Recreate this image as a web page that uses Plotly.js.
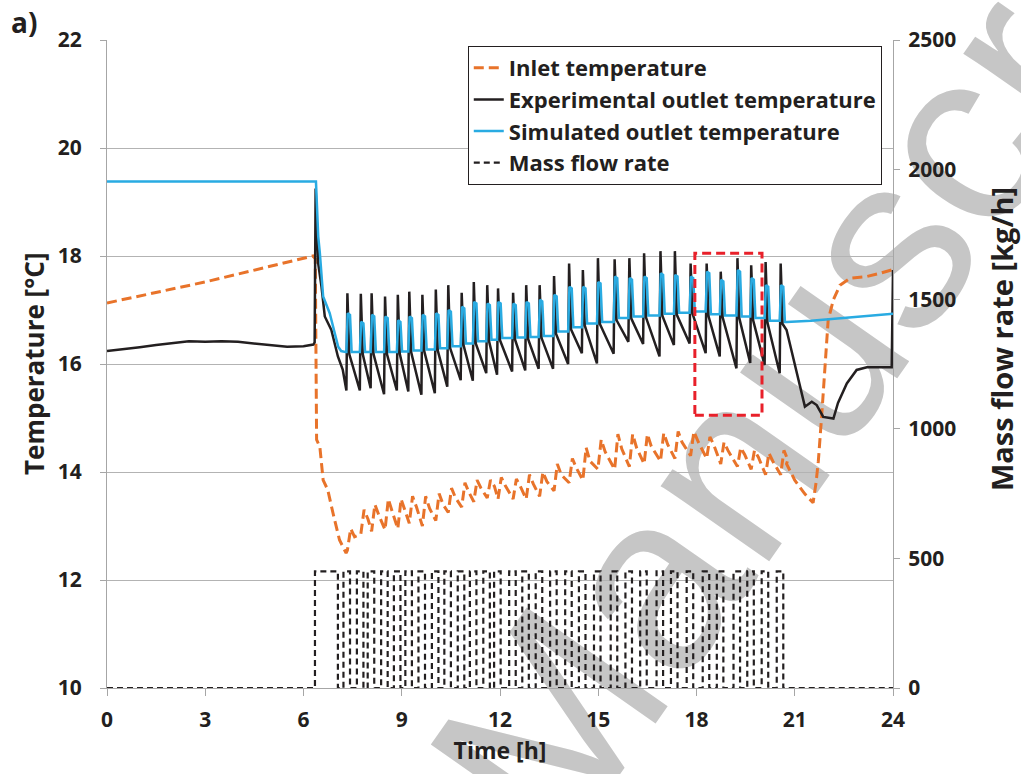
<!DOCTYPE html>
<html>
<head>
<meta charset="utf-8">
<script src="https://cdn.plot.ly/plotly-3.0.1.min.js"></script>
<style>
  html, body { margin: 0; padding: 0; background: #ffffff; }
  #wrap { position: relative; width: 1021px; height: 774px; overflow: hidden; }
  #wm { position: absolute; left: 0; top: 0; z-index: 0; }
  #chart { position: absolute; left: 0; top: 0; width: 1021px; height: 774px; z-index: 1; }
</style>
</head>
<body>
<div id="wrap">
<svg id="wm" width="1021" height="774" xmlns="http://www.w3.org/2000/svg">
  <text x="560" y="860" transform="rotate(-55 560 860)" font-family="Liberation Sans, Arial, sans-serif" font-size="250" fill="#c6c6c6">Manuscript</text>
</svg>
<div id="chart"></div>
</div>
<script>
// ---------- data ----------
// pump cycle start times [h]
const cycleT = [7.32, 7.73, 8.06, 8.47, 8.86, 9.21, 9.61, 10.02, 10.40, 10.81, 11.18, 11.59, 11.92, 12.38, 12.78, 13.19, 13.63, 14.09, 14.51, 14.97, 15.48, 15.93, 16.38, 16.88, 17.32, 17.80, 18.29, 18.72, 19.23, 19.65, 20.09, 20.55];

// experimental outlet temperature [°C]
const expPreT = [0, 0.5, 1, 1.5, 2, 2.5, 3, 3.5, 4, 4.5, 5, 5.5, 6, 6.3, 6.34, 6.37, 6.45, 6.55, 6.65, 6.85, 7.05, 7.2];
const expPreV = [16.24, 16.27, 16.31, 16.35, 16.39, 16.42, 16.41, 16.42, 16.41, 16.38, 16.34, 16.32, 16.33, 16.36, 16.40, 19.25, 17.86, 17.43, 16.88, 16.63, 16.14, 15.89];
const expTrough = [15.51, 15.51, 15.55, 15.44, 15.51, 15.49, 15.43, 15.46, 15.58, 15.70, 15.69, 15.83, 15.80, 15.86, 15.88, 15.91, 15.91, 16.00, 16.20, 16.01, 16.19, 16.41, 16.37, 16.14, 16.35, 16.38, 16.20, 16.14, 15.92, 16.02, 15.98, 15.83];
const expPeak = [17.31, 17.30, 17.31, 17.25, 17.28, 17.34, 17.28, 17.38, 17.46, 17.32, 17.52, 17.46, 17.40, 17.32, 17.46, 17.46, 17.63, 17.86, 17.74, 17.96, 17.94, 17.96, 18.05, 18.09, 18.09, 17.86, 17.86, 17.71, 17.96, 17.83, 17.89, 17.86];
const expKnee = [16.18, 16.18, 16.18, 16.18, 16.19, 16.21, 16.23, 16.25, 16.29, 16.34, 16.38, 16.41, 16.44, 16.45, 16.46, 16.48, 16.56, 16.64, 16.71, 16.74, 16.81, 16.84, 16.86, 16.89, 16.91, 16.93, 16.88, 16.86, 16.84, 16.81, 16.76, 16.74];
const expPostT = [20.75, 20.95, 21.16, 21.31, 21.52, 21.67, 21.87, 22.18, 22.32, 22.59, 22.89, 23.2, 23.96, 23.98, 24];
const expPostV = [16.63, 16.14, 15.58, 15.21, 15.30, 15.24, 15.02, 14.99, 15.28, 15.64, 15.89, 15.94, 15.94, 17.70, 17.74];

// simulated outlet temperature [°C]
const simPreT = [0, 6.38, 6.45, 6.5, 6.6, 6.8, 7.06, 7.15, 7.29];
const simPreV = [19.38, 19.38, 18.36, 18.05, 17.25, 16.94, 16.32, 16.24, 16.22];
const simPeak = [16.94, 16.78, 16.91, 16.88, 16.81, 16.88, 16.91, 16.94, 17.00, 17.06, 17.15, 17.12, 17.15, 17.12, 17.15, 17.19, 17.28, 17.43, 17.43, 17.52, 17.62, 17.59, 17.62, 17.68, 17.65, 17.62, 17.71, 17.56, 17.74, 17.59, 17.46, 17.46];
const simBase = [16.22, 16.22, 16.22, 16.22, 16.23, 16.25, 16.27, 16.29, 16.33, 16.38, 16.42, 16.45, 16.48, 16.49, 16.50, 16.52, 16.60, 16.68, 16.75, 16.78, 16.85, 16.88, 16.90, 16.93, 16.95, 16.97, 16.92, 16.90, 16.88, 16.85, 16.80, 16.78];
const simPostT = [20.75, 21.5, 22.5, 23.5, 24];
const simPostV = [16.78, 16.80, 16.85, 16.90, 16.93];

// inlet temperature [°C]
const inPreT = [0, 3, 6.29, 6.36, 6.4, 6.5, 6.6, 6.74, 6.9, 7.1, 7.3];
const inPreV = [17.13, 17.52, 18.00, 17.95, 14.60, 14.46, 13.85, 13.67, 13.24, 12.74, 12.50];
const inLow = [12.55, 12.85, 12.90, 12.93, 12.95, 13.05, 13.00, 13.10, 13.25, 13.35, 13.45, 13.52, 13.50, 13.50, 13.50, 13.55, 13.65, 13.80, 13.85, 14.05, 14.05, 14.10, 14.15, 14.20, 14.25, 14.30, 14.25, 14.15, 14.10, 14.05, 13.95, 13.95];
const inHigh = [12.95, 13.30, 13.40, 13.50, 13.50, 13.55, 13.55, 13.60, 13.70, 13.80, 13.85, 13.85, 13.90, 13.87, 13.95, 14.00, 14.15, 14.25, 14.45, 14.60, 14.70, 14.70, 14.70, 14.72, 14.75, 14.75, 14.65, 14.55, 14.45, 14.40, 14.35, 14.40];
const inPostT = [20.75, 21.0, 21.3, 21.56, 21.65, 21.72, 21.82, 21.92, 22.02, 22.18, 22.38, 22.69, 23.2, 23.6, 24];
const inPostV = [14.15, 13.85, 13.60, 13.43, 13.80, 14.20, 15.02, 15.89, 16.81, 17.19, 17.46, 17.59, 17.62, 17.68, 17.75];

// mass flow rate pulses [h] and level [kg/h]
const pumpOn  = [6.35, 7.22, 7.63, 7.96, 8.37, 8.76, 9.11, 9.51, 9.92, 10.30, 10.71, 11.08, 11.49, 11.82, 12.28, 12.68, 13.09, 13.53, 13.99, 14.41, 14.87, 15.38, 15.83, 16.28, 16.78, 17.22, 17.70, 18.19, 18.62, 19.13, 19.55, 19.99, 20.45];
const pumpOff = [7.05, 7.42, 7.83, 8.16, 8.57, 8.96, 9.31, 9.71, 10.12, 10.50, 10.91, 11.28, 11.69, 12.02, 12.48, 12.88, 13.29, 13.73, 14.19, 14.61, 15.07, 15.58, 16.03, 16.48, 16.98, 17.42, 17.90, 18.39, 18.82, 19.33, 19.75, 20.19, 20.65];
const flowLevel = 450;

const xTicks = [0, 3, 6, 9, 12, 15, 18, 21, 24];

// ---------- build traces ----------
const ex = expPreT.slice(), ey = expPreV.slice();
for (let i = 0; i < cycleT.length; i++) {
  ex.push(cycleT[i] - 0.01); ey.push(expTrough[i]);
  ex.push(cycleT[i] + 0.02); ey.push(expPeak[i]);
  ex.push(cycleT[i] + 0.08); ey.push(expKnee[i]);
}
expPostT.forEach((t, k) => { ex.push(t); ey.push(expPostV[k]); });

const sx = simPreT.slice(), sy = simPreV.slice();
for (let i = 0; i < cycleT.length; i++) {
  const prevBase = i === 0 ? simPreV[simPreV.length - 1] : simBase[i - 1];
  sx.push(cycleT[i] - 0.01); sy.push(prevBase);
  sx.push(cycleT[i] + 0.03); sy.push(simPeak[i]);
  sx.push(cycleT[i] + 0.10); sy.push(simPeak[i] - 0.03);
  sx.push(cycleT[i] + 0.15); sy.push(simBase[i]);
}
simPostT.forEach((t, k) => { sx.push(t); sy.push(simPostV[k]); });

const ix = inPreT.slice(), iy = inPreV.slice();
for (let i = 0; i < cycleT.length; i++) {
  ix.push(cycleT[i] + 0.02); iy.push(inLow[i]);
  ix.push(cycleT[i] + 0.12); iy.push(inHigh[i]);
  ix.push(cycleT[i] + 0.24); iy.push((inLow[i] + inHigh[i]) / 2 + 0.05);
}
inPostT.forEach((t, k) => { ix.push(t); iy.push(inPostV[k]); });

const fx = [0], fy = [0];
for (let i = 0; i < pumpOn.length; i++) {
  fx.push(pumpOn[i], pumpOn[i], pumpOff[i], pumpOff[i]);
  fy.push(0, flowLevel, flowLevel, 0);
}
fx.push(24); fy.push(0);

const FONT = 'Open Sans, Lato, sans-serif';
const traces = [
  { x: fx, y: fy, yaxis: 'y2', type: 'scatter', mode: 'lines', name: 'Mass flow rate',
    line: { color: '#231f20', width: 2.2, dash: '6px,4px' }, legendrank: 4 },
  { x: ix, y: iy, type: 'scatter', mode: 'lines', name: 'Inlet temperature',
    line: { color: '#e8732a', width: 3, dash: '10px,5px' }, legendrank: 1 },
  { x: ex, y: ey, type: 'scatter', mode: 'lines', name: 'Experimental outlet temperature',
    line: { color: '#231f20', width: 2.5 }, legendrank: 2 },
  { x: sx, y: sy, type: 'scatter', mode: 'lines', name: 'Simulated outlet temperature',
    line: { color: '#29abe2', width: 2.5 }, legendrank: 3 }
];

const layout = {
  width: 1021, height: 774,
  margin: { l: 107, r: 128, t: 40, b: 86 },
  paper_bgcolor: 'rgba(0,0,0,0)', plot_bgcolor: 'rgba(0,0,0,0)',
  font: { family: FONT, color: '#231f20', size: 21, weight: 'bold' },
  showlegend: true,
  legend: { x: 0.459, y: 0.9907, xanchor: 'left', yanchor: 'top', bgcolor: '#ffffff',
    bordercolor: '#231f20', borderwidth: 1, itemwidth: 30,
    font: { family: FONT, size: 22, weight: 'bold', color: '#231f20' } },
  xaxis: { range: [0, 24], tickvals: xTicks, ticktext: xTicks.map(String), ticks: 'outside', ticklen: 7,
    tickcolor: '#a6a6a6', showline: true, linecolor: '#a6a6a6', linewidth: 1, showgrid: false, zeroline: false,
    ticklabelstandoff: 6, tickfont: { family: FONT, size: 21, weight: 'bold' },
    title: { text: 'Time [h]', standoff: 10, font: { family: FONT, size: 23, weight: 'bold' } } },
  yaxis: { range: [10, 22], dtick: 2, ticks: 'outside', ticklen: 6, tickcolor: '#a6a6a6',
    showline: true, linecolor: '#a6a6a6', showgrid: true, gridcolor: '#b3b3b3', gridwidth: 1, zeroline: false,
    ticklabelstandoff: 14, tickfont: { family: FONT, size: 21, weight: 'bold' } },
  yaxis2: { range: [0, 2500], dtick: 500, overlaying: 'y', side: 'right', ticks: 'outside', ticklen: 6,
    tickcolor: '#a6a6a6', showline: true, linecolor: '#a6a6a6', showgrid: false, zeroline: false,
    ticklabelstandoff: 4, tickfont: { family: FONT, size: 21, weight: 'bold' } },
  shapes: [
    { type: 'rect', xref: 'x', yref: 'y', x0: 17.95, x1: 20.0, y0: 15.05, y1: 18.05,
      line: { color: '#e8202a', width: 3, dash: '9px,5px' } }
  ],
  annotations: [
    { text: 'Temperature [°C]', xref: 'paper', yref: 'paper', x: (34 - 107) / 786, y: (688 - 364) / 648,
      xanchor: 'center', yanchor: 'middle', textangle: -90, showarrow: false,
      font: { family: FONT, size: 26, weight: 'bold', color: '#231f20' } },
    { text: 'Mass flow rate [kg/h]', xref: 'paper', yref: 'paper', x: (1001 - 107) / 786, y: (688 - 339) / 648,
      xanchor: 'center', yanchor: 'middle', textangle: -90, showarrow: false,
      font: { family: FONT, size: 29, weight: 'bold', color: '#231f20' } },
    { text: 'a)', xref: 'paper', yref: 'paper', x: -0.125, y: 1.028, xanchor: 'left', yanchor: 'middle',
      showarrow: false, font: { family: FONT, size: 28, weight: 'bold', color: '#231f20' } },
    { text: 'b)', xref: 'paper', yref: 'paper', x: -0.10, y: -0.16, xanchor: 'left', yanchor: 'middle',
      showarrow: false, font: { family: FONT, size: 28, weight: 'bold', color: '#231f20' } }
  ]
};

Plotly.newPlot('chart', traces, layout, { displayModeBar: false, staticPlot: true });
</script>
</body>
</html>
